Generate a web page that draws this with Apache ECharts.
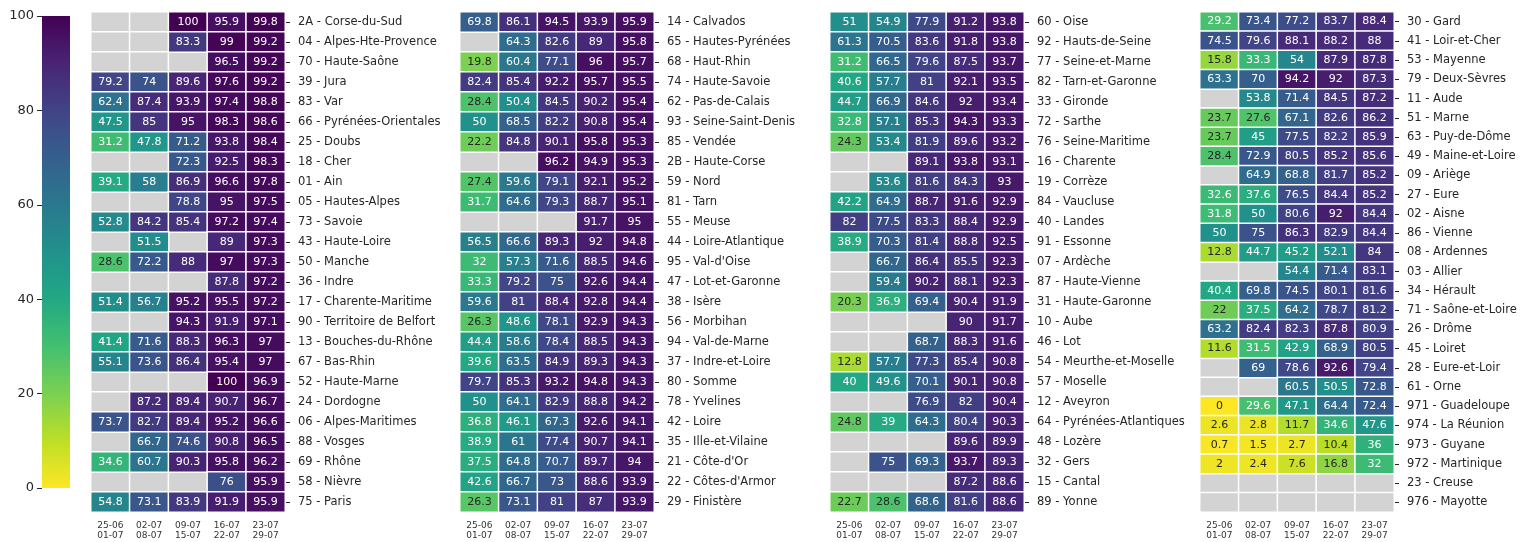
<!DOCTYPE html>
<html><head><meta charset="utf-8">
<script src="https://cdn.jsdelivr.net/npm/echarts@6/dist/echarts.min.js"></script>
<style>html,body{margin:0;padding:0;background:#fff}#c{width:1528px;height:542px}</style>
</head><body><div id="c"></div>
<script>
const weeks = ['25-06\n01-07','02-07\n08-07','09-07\n15-07','16-07\n22-07','23-07\n29-07'];
const colorbarTicks = [0, 20, 40, 60, 80, 100];

const depts1 = ['2A - Corse-du-Sud','04 - Alpes-Hte-Provence','70 - Haute-Saône','39 - Jura','83 - Var','66 - Pyrénées-Orientales','25 - Doubs','18 - Cher','01 - Ain','05 - Hautes-Alpes','73 - Savoie','43 - Haute-Loire','50 - Manche','36 - Indre','17 - Charente-Maritime','90 - Territoire de Belfort','13 - Bouches-du-Rhône','67 - Bas-Rhin','52 - Haute-Marne','24 - Dordogne','06 - Alpes-Maritimes','88 - Vosges','69 - Rhône','58 - Nièvre','75 - Paris'];
const values1 = [
[null,null,100,95.9,99.8],[null,null,83.3,99,99.2],[null,null,null,96.5,99.2],[79.2,74,89.6,97.6,99.2],
[62.4,87.4,93.9,97.4,98.8],[47.5,85,95,98.3,98.6],[31.2,47.8,71.2,93.8,98.4],[null,null,72.3,92.5,98.3],
[39.1,58,86.9,96.6,97.8],[null,null,78.8,95,97.5],[52.8,84.2,85.4,97.2,97.4],[null,51.5,null,89,97.3],
[28.6,72.2,88,97,97.3],[null,null,null,87.8,97.2],[51.4,56.7,95.2,95.5,97.2],[null,null,94.3,91.9,97.1],
[41.4,71.6,88.3,96.3,97],[55.1,73.6,86.4,95.4,97],[null,null,null,100,96.9],[null,87.2,89.4,90.7,96.7],
[73.7,82.7,89.4,95.2,96.6],[null,66.7,74.6,90.8,96.5],[34.6,60.7,90.3,95.8,96.2],[null,null,null,76,95.9],
[54.8,73.1,83.9,91.9,95.9]];

const depts2 = ['14 - Calvados','65 - Hautes-Pyrénées','68 - Haut-Rhin','74 - Haute-Savoie','62 - Pas-de-Calais','93 - Seine-Saint-Denis','85 - Vendée','2B - Haute-Corse','59 - Nord','81 - Tarn','55 - Meuse','44 - Loire-Atlantique','95 - Val-d\'Oise','47 - Lot-et-Garonne','38 - Isère','56 - Morbihan','94 - Val-de-Marne','37 - Indre-et-Loire','80 - Somme','78 - Yvelines','42 - Loire','35 - Ille-et-Vilaine','21 - Côte-d\'Or','22 - Côtes-d\'Armor','29 - Finistère'];
const values2 = [
[69.8,86.1,94.5,93.9,95.9],[null,64.3,82.6,89,95.8],[19.8,60.4,77.1,96,95.7],[82.4,85.4,92.2,95.7,95.5],
[28.4,50.4,84.5,90.2,95.4],[50,68.5,82.2,90.8,95.4],[22.2,84.8,90.1,95.8,95.3],[null,null,96.2,94.9,95.3],
[27.4,59.6,79.1,92.1,95.2],[31.7,64.6,79.3,88.7,95.1],[null,null,null,91.7,95],[56.5,66.6,89.3,92,94.8],
[32,57.3,71.6,88.5,94.6],[33.3,79.2,75,92.6,94.4],[59.6,81,88.4,92.8,94.4],[26.3,48.6,78.1,92.9,94.3],
[44.4,58.6,78.4,88.5,94.3],[39.6,63.5,84.9,89.3,94.3],[79.7,85.3,93.2,94.8,94.3],[50,64.1,82.9,88.8,94.2],
[36.8,46.1,67.3,92.6,94.1],[38.9,61,77.4,90.7,94.1],[37.5,64.8,70.7,89.7,94],[42.6,66.7,73,88.6,93.9],
[26.3,73.1,81,87,93.9]];

const depts3 = ['60 - Oise','92 - Hauts-de-Seine','77 - Seine-et-Marne','82 - Tarn-et-Garonne','33 - Gironde','72 - Sarthe','76 - Seine-Maritime','16 - Charente','19 - Corrèze','84 - Vaucluse','40 - Landes','91 - Essonne','07 - Ardèche','87 - Haute-Vienne','31 - Haute-Garonne','10 - Aube','46 - Lot','54 - Meurthe-et-Moselle','57 - Moselle','12 - Aveyron','64 - Pyrénées-Atlantiques','48 - Lozère','32 - Gers','15 - Cantal','89 - Yonne'];
const values3 = [
[51,54.9,77.9,91.2,93.8],[61.3,70.5,83.6,91.8,93.8],[31.2,66.5,79.6,87.5,93.7],[40.6,57.7,81,92.1,93.5],
[44.7,66.9,84.6,92,93.4],[32.8,57.1,85.3,94.3,93.3],[24.3,53.4,81.9,89.6,93.2],[null,null,89.1,93.8,93.1],
[null,53.6,81.6,84.3,93],[42.2,64.9,88.7,91.6,92.9],[82,77.5,83.3,88.4,92.9],[38.9,70.3,81.4,88.8,92.5],
[null,66.7,86.4,85.5,92.3],[null,59.4,90.2,88.1,92.3],[20.3,36.9,69.4,90.4,91.9],[null,null,null,90,91.7],
[null,null,68.7,88.3,91.6],[12.8,57.7,77.3,85.4,90.8],[40,49.6,70.1,90.1,90.8],[null,null,76.9,82,90.4],
[24.8,39,64.3,80.4,90.3],[null,null,null,89.6,89.9],[null,75,69.3,93.7,89.3],[null,null,null,87.2,88.6],
[22.7,28.6,68.6,81.6,88.6]];

const depts4 = ['30 - Gard','41 - Loir-et-Cher','53 - Mayenne','79 - Deux-Sèvres','11 - Aude','51 - Marne','63 - Puy-de-Dôme','49 - Maine-et-Loire','09 - Ariège','27 - Eure','02 - Aisne','86 - Vienne','08 - Ardennes','03 - Allier','34 - Hérault','71 - Saône-et-Loire','26 - Drôme','45 - Loiret','28 - Eure-et-Loir','61 - Orne','971 - Guadeloupe','974 - La Réunion','973 - Guyane','972 - Martinique','23 - Creuse','976 - Mayotte'];
const values4 = [
[29.2,73.4,77.2,83.7,88.4],[74.5,79.6,88.1,88.2,88],[15.8,33.3,54,87.9,87.8],[63.3,70,94.2,92,87.3],
[null,53.8,71.4,84.5,87.2],[23.7,27.6,67.1,82.6,86.2],[23.7,45,77.5,82.2,85.9],[28.4,72.9,80.5,85.2,85.6],
[null,64.9,68.8,81.7,85.2],[32.6,37.6,76.5,84.4,85.2],[31.8,50,80.6,92,84.4],[50,75,86.3,82.9,84.4],
[12.8,44.7,45.2,52.1,84],[null,null,54.4,71.4,83.1],[40.4,69.8,74.5,80.1,81.6],[22,37.5,64.2,78.7,81.2],
[63.2,82.4,82.3,87.8,80.9],[11.6,31.5,42.9,68.9,80.5],[null,69,78.6,92.6,79.4],[null,null,60.5,50.5,72.8],
[0,29.6,47.1,64.4,72.4],[2.6,2.8,11.7,34.6,47.6],[0.7,1.5,2.7,10.4,36],[2,2.4,7.6,16.8,32],
[null,null,null,null,null],[null,null,null,null,null]];

// ---- rendering ----
const FONT = 'DejaVu Sans';
const TXT = '#262626';
const VIR = ['#440154','#482475','#414487','#355f8d','#2a788e','#21918c','#22a884','#44bf70','#7ad151','#bddf26','#fde725'];
function hex2rgb(h){return [parseInt(h.slice(1,3),16),parseInt(h.slice(3,5),16),parseInt(h.slice(5,7),16)];}
function cmap(v){
  const t = Math.min(1, Math.max(0, 1 - v/100)) * 10;
  const i = Math.min(9, Math.floor(t)); const f = t - i;
  const a = hex2rgb(VIR[i]), b = hex2rgb(VIR[i+1]);
  return a.map((x,k)=>Math.round(x + (b[k]-x)*f));
}
function lum(rgb){
  const c = rgb.map(x=>{x/=255; return x<=0.03928 ? x/12.92 : Math.pow((x+0.055)/1.055, 2.4);});
  return 0.2126*c[0] + 0.7152*c[1] + 0.0722*c[2];
}

const panels = [[depts1, values1],[depts2, values2],[depts3, values3],[depts4, values4]];
const panelLeft = [91, 460, 830, 1200];
const grids = [], xAxes = [], yAxes = [], series = [];

panels.forEach(([depts, vals], p) => {
  grids.push({left: panelLeft[p], top: 12, width: 194, height: 500});
  xAxes.push({type:'category', gridIndex:p, data:weeks, position:'bottom',
    axisLine:{show:false}, axisTick:{show:false}, splitLine:{show:false},
    axisLabel:{fontFamily:FONT, fontSize:9, lineHeight:10, color:'#333', margin:9, interval:0}});
  yAxes.push({type:'category', gridIndex:p, data:depts, inverse:true, position:'right',
    axisLine:{show:false}, splitLine:{show:false},
    axisTick:{show:true, alignWithLabel:true, length:5, lineStyle:{color:TXT, width:1}},
    axisLabel:{fontFamily:FONT, fontSize:11.5, color:TXT, margin:13, interval:0}});
  const present = [], missing = [];
  vals.forEach((row, r) => row.forEach((v, c) => {
    if (v === null) { missing.push({value:[c, r, 0]}); return; }
    const rgb = cmap(v);
    present.push({value:[c, r, v],
      itemStyle:{color:'rgb('+rgb.join(',')+')'},
      label:{color: lum(rgb) > 0.408 ? TXT : '#ffffff'}});
  }));
  series.push({type:'heatmap', xAxisIndex:p, yAxisIndex:p, data:missing, silent:true,
    itemStyle:{color:'#d3d3d3', borderColor:'#fff', borderWidth:1.5}, label:{show:false}});
  series.push({type:'heatmap', xAxisIndex:p, yAxisIndex:p, data:present, silent:true,
    itemStyle:{borderColor:'#fff', borderWidth:1.5},
    label:{show:true, fontFamily:FONT, fontSize:11, formatter:(d)=>String(d.value[2])},
    emphasis:{disabled:true}});
});

// colorbar
grids.push({left:42, top:16, width:28, height:472});
xAxes.push({type:'category', gridIndex:4, data:['cb'], show:false});
yAxes.push({type:'value', gridIndex:4, min:colorbarTicks[0], max:colorbarTicks[colorbarTicks.length-1], interval:20, position:'left',
  axisLine:{show:false}, splitLine:{show:false},
  axisTick:{show:true, length:5, lineStyle:{color:TXT}},
  axisLabel:{fontFamily:FONT, fontSize:13, color:TXT, margin:8}});
series.push({type:'bar', xAxisIndex:4, yAxisIndex:4, data:[colorbarTicks[colorbarTicks.length-1]], barWidth:'100%', silent:true,
  itemStyle:{color:new echarts.graphic.LinearGradient(0,0,0,1, VIR.map((c,i)=>({offset:i/10, color:c})))}});

const chart = echarts.init(document.getElementById('c'), null, {renderer:'canvas'});
chart.setOption({animation:false, backgroundColor:'#fff', grid:grids, xAxis:xAxes, yAxis:yAxes, series:series});
</script></body></html>
